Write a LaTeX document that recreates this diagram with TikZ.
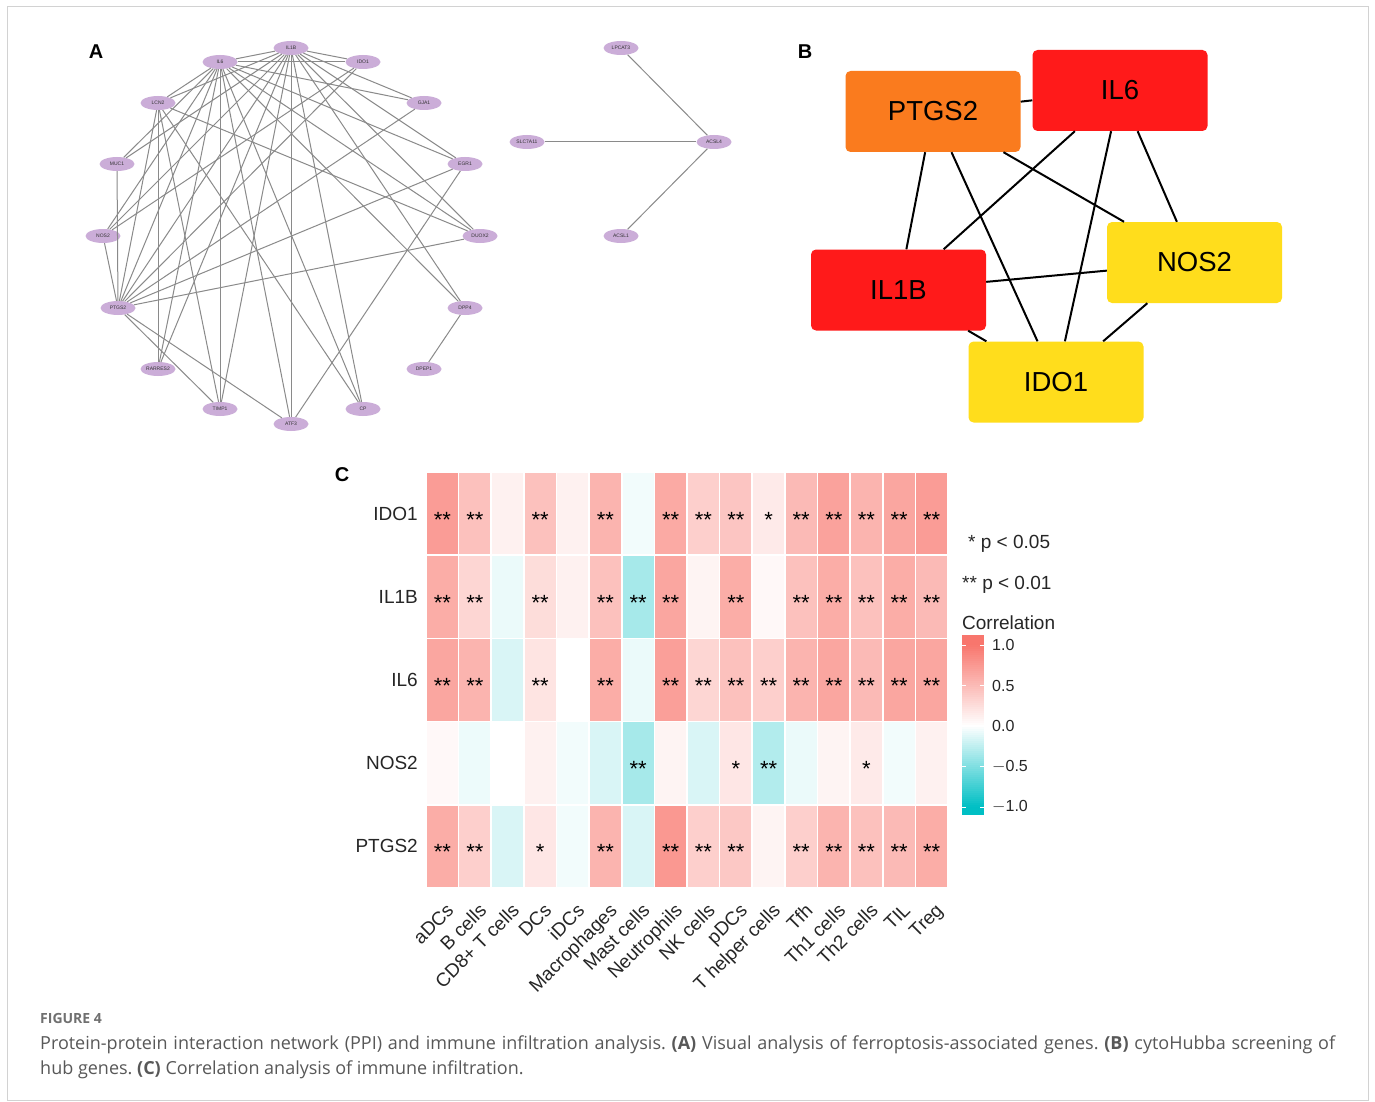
\documentclass[tikz,border=0pt]{standalone}
\usepackage{fontspec}
\setmainfont{Liberation Sans}
\newfontfamily\capfont{Open Sans}
\usetikzlibrary{shapes.geometric}
\definecolor{hmpos}{HTML}{F8766D}
\definecolor{hmneg}{HTML}{00BFC4}
\definecolor{ppifill}{HTML}{CBADD8}
\definecolor{ppiline}{HTML}{8A8A8A}
\definecolor{bred}{HTML}{FF1A1A}
\definecolor{borange}{HTML}{FA7B1E}
\definecolor{byellow}{HTML}{FFDD1C}
\definecolor{captxt}{HTML}{585858}
\definecolor{capgray}{HTML}{707070}
\newcommand\hmrow[2]{%
  \foreach \hv/\hs [count=\hcol from 0] in {#2}{%
    \pgfmathsetmacro\pv{abs(\hv)*100}%
    \pgfmathsetmacro\ng{\hv<0 ? 1 : 0}%
    \ifdim\ng pt>0.5pt\def\hc{hmneg}\else\def\hc{hmpos}\fi
    \pgfmathsetmacro\cx{426+32.625*(\hcol+0.5)}%
    \pgfmathsetmacro\cy{472+83.2*(#1+0.5)}%
    \node[hmcell, fill=\hc!\pv!white] (cell-#1-\hcol) at (\cx,\cy) {};
    \node[hmstar, anchor=base] (star-#1-\hcol) at (\cx,\cy+13.5) {\ifcase\hs\or*\or**\fi};
  }%
}
\begin{document}
\frenchspacing
\begin{tikzpicture}[x=1pt,y=-1pt,
  ppinode/.style={ellipse, fill=ppifill, minimum width=35pt, minimum height=14pt, inner sep=0pt, font=\fontsize{5}{6}\selectfont, text=black!80},
  ppiedge/.style={draw=ppiline, line width=1pt},
  hubbox/.style={rectangle, rounded corners=5pt, minimum width=175pt, minimum height=81pt, inner sep=0pt, font=\fontsize{27.5}{30}\selectfont},
  hubedge/.style={draw=black, line width=2pt},
  panellab/.style={font=\fontsize{20}{20}\selectfont\bfseries, inner sep=0pt},
  hmcell/.style={rectangle, draw=white, line width=1.6pt, minimum width=32.625pt, minimum height=83.2pt, inner sep=0pt},
  hmstar/.style={font=\fontsize{22}{22}\selectfont, inner sep=0pt},
  rowlab/.style={font=\fontsize{19}{19}\selectfont, inner sep=0pt, anchor=east, text=black!85},
  collab/.style={font=\fontsize{19}{19}\selectfont, inner sep=0pt, anchor=north east, rotate=45, text=black!85},
  leglab/.style={font=\fontsize{16}{16}\selectfont, inner sep=0pt, anchor=west, text=black!85},
]
\useasboundingbox (0,0) rectangle (1375,1102);
\fill[white] (0,0) rectangle (1375,1102);
\draw[gray!35, line width=1pt] (7,6.5) rectangle (1368.5,1100.5);

% ---------- Panel A ----------
\node[panellab] (labA) at (96,52) {A};
\node[ppinode] (a-IL1B) at (291,48) {IL1B};
\node[ppinode] (a-IDO1) at (363,62) {IDO1};
\node[ppinode] (a-GJA1) at (424,103) {GJA1};
\node[ppinode] (a-EGR1) at (465,164) {EGR1};
\node[ppinode] (a-DUOX2) at (480,236) {DUOX2};
\node[ppinode] (a-DPP4) at (465,308) {DPP4};
\node[ppinode] (a-DPEP1) at (424,369) {DPEP1};
\node[ppinode] (a-CP) at (363,409) {CP};
\node[ppinode] (a-ATF3) at (291,424) {ATF3};
\node[ppinode] (a-TIMP1) at (220,409) {TIMP1};
\node[ppinode] (a-RARRES2) at (158,369) {RARRES2};
\node[ppinode] (a-PTGS2) at (118,308) {PTGS2};
\node[ppinode] (a-NOS2) at (103,236) {NOS2};
\node[ppinode] (a-MUC1) at (117,164) {MUC1};
\node[ppinode] (a-LCN2) at (158,103) {LCN2};
\node[ppinode] (a-IL6) at (220,62) {IL6};
\node[ppinode] (a-LPCAT3) at (621,48) {LPCAT3};
\node[ppinode] (a-SLC7A11) at (527,142) {SLC7A11};
\node[ppinode] (a-ACSL4) at (714,142) {ACSL4};
\node[ppinode] (a-ACSL1) at (621,236) {ACSL1};
\foreach \ea/\eb in {IL1B/IL6,IL1B/IDO1,IL1B/GJA1,IL1B/EGR1,IL1B/DUOX2,IL1B/DPP4,IL1B/CP,IL1B/ATF3,IL1B/TIMP1,IL1B/RARRES2,IL1B/PTGS2,IL1B/NOS2,IL1B/MUC1,IL1B/LCN2,
  IL6/IDO1,IL6/GJA1,IL6/EGR1,IL6/DUOX2,IL6/DPP4,IL6/CP,IL6/ATF3,IL6/TIMP1,IL6/RARRES2,IL6/PTGS2,IL6/NOS2,IL6/MUC1,IL6/LCN2,
  IDO1/PTGS2,IDO1/NOS2,GJA1/PTGS2,EGR1/PTGS2,EGR1/ATF3,DUOX2/PTGS2,DUOX2/LCN2,DPP4/DPEP1,
  LCN2/CP,LCN2/TIMP1,LCN2/RARRES2,LCN2/PTGS2,PTGS2/NOS2,PTGS2/MUC1,PTGS2/TIMP1,PTGS2/ATF3,
  LPCAT3/ACSL4,SLC7A11/ACSL4,ACSL1/ACSL4}
  {\draw[ppiedge] (a-\ea) -- (a-\eb);}

% ---------- Panel B ----------
\node[panellab] (labB) at (805,52) {B};
\node[hubbox, fill=borange] (b-PTGS2) at (933,111.5) {PTGS2};
\node[hubbox, fill=bred] (b-IL6) at (1120,90.5) {IL6};
\node[hubbox, fill=byellow] (b-NOS2) at (1194.5,262.5) {NOS2};
\node[hubbox, fill=bred] (b-IL1B) at (898.5,290) {IL1B};
\node[hubbox, fill=byellow] (b-IDO1) at (1056,382) {IDO1};
\foreach \ea/\eb in {PTGS2/IL6,PTGS2/IL1B,PTGS2/IDO1,PTGS2/NOS2,IL6/IL1B,IL6/IDO1,IL6/NOS2,IL1B/NOS2,IL1B/IDO1,NOS2/IDO1}
  {\draw[hubedge] (b-\ea) -- (b-\eb);}

% ---------- Panel C ----------
\node[panellab] (labC) at (342,475) {C};
\hmrow{0}{0.72/2,0.45/2,0.1/0,0.45/2,0.1/0,0.55/2,-0.05/0,0.62/2,0.35/2,0.42/2,0.15/1,0.5/2,0.68/2,0.55/2,0.65/2,0.72/2}
\hmrow{1}{0.6/2,0.3/2,-0.08/0,0.25/2,0.1/0,0.45/2,-0.35/2,0.65/2,0.08/0,0.6/2,0.05/0,0.45/2,0.6/2,0.45/2,0.6/2,0.5/2}
\hmrow{2}{0.65/2,0.55/2,-0.15/0,0.2/2,0/0,0.6/2,-0.08/0,0.7/2,0.3/2,0.45/2,0.35/2,0.55/2,0.65/2,0.5/2,0.65/2,0.65/2}
\hmrow{3}{0.05/0,-0.07/0,0/0,0.1/0,-0.05/0,-0.15/0,-0.35/2,0.08/0,-0.15/0,0.18/1,-0.3/2,-0.08/0,0.08/0,0.15/1,-0.05/0,0.1/0}
\hmrow{4}{0.6/2,0.35/2,-0.15/0,0.18/1,-0.05/0,0.55/2,-0.15/0,0.75/2,0.35/2,0.4/2,0.08/0,0.35/2,0.55/2,0.45/2,0.5/2,0.6/2}
\foreach \rn [count=\ri from 0] in {IDO1,IL1B,IL6,NOS2,PTGS2}
  {\node[rowlab] (row-\ri) at (418,{472+83.2*(\ri+0.5)}) {\rn};}
\foreach \cn [count=\ci from 0] in {aDCs,B cells,CD8+ T cells,DCs,iDCs,Macrophages,Mast cells,Neutrophils,NK cells,pDCs,T helper cells,Tfh,Th1 cells,Th2 cells,TIL,Treg}
  {\node[collab] (col-\ci) at ({426+32.625*(\ci+0.5)+3},902) {\cn};}
% legend
\node[leglab, font=\fontsize{19}{19}\selectfont, anchor=base west] (p05) at (968,548) {* p < 0.05};
\node[leglab, font=\fontsize{19}{19}\selectfont, anchor=base west] (p01) at (962,589) {** p < 0.01};
\node[leglab, font=\fontsize{19}{19}\selectfont, anchor=base west] (corr) at (962,629) {Correlation};
\foreach \k in {0,...,89}{
  \pgfmathsetmacro\yy{635+2*\k}
  \pgfmathsetmacro\vv{max(-1,min(1,(725-\yy)/81))}
  \pgfmathsetmacro\pv{abs(\vv)*100}
  \pgfmathsetmacro\ng{\vv<0 ? 1 : 0}
  \ifdim\ng pt>0.5pt\def\hc{hmneg}\else\def\hc{hmpos}\fi
  \fill[\hc!\pv!white] (962,\yy) rectangle (984,\yy+2.4);
}
\foreach \tv/\ty in {1.0/645,0.5/685.5,0.0/726,{$-$0.5}/766.5,{$-$1.0}/807}{
  \draw[white, line width=1pt] (962,\ty) -- (966,\ty);
  \draw[white, line width=1pt] (980,\ty) -- (984,\ty);
  \node[leglab] (tick-\ty) at (992,\ty) {\tv};
}

% ---------- Caption ----------
\node[inner sep=0pt, anchor=base west, font=\capfont\bfseries\fontsize{14}{16}\selectfont, text=capgray] (fig) at (40,1023) {FIGURE 4};
\node[inner sep=0pt, anchor=base west, font=\capfont\fontsize{18}{25}\selectfont, text=captxt] (cap1) at (40,1049) {\makebox[1295pt][s]{Protein-protein interaction network (PPI) and immune infiltration analysis. \textbf{(A)} Visual analysis of ferroptosis-associated genes. \textbf{(B)} cytoHubba screening of}};
\node[inner sep=0pt, anchor=base west, font=\capfont\fontsize{18}{25}\selectfont, text=captxt] (cap2) at (40,1074) {hub genes. \textbf{(C)} Correlation analysis of immune infiltration.};
\end{tikzpicture}
\end{document}
